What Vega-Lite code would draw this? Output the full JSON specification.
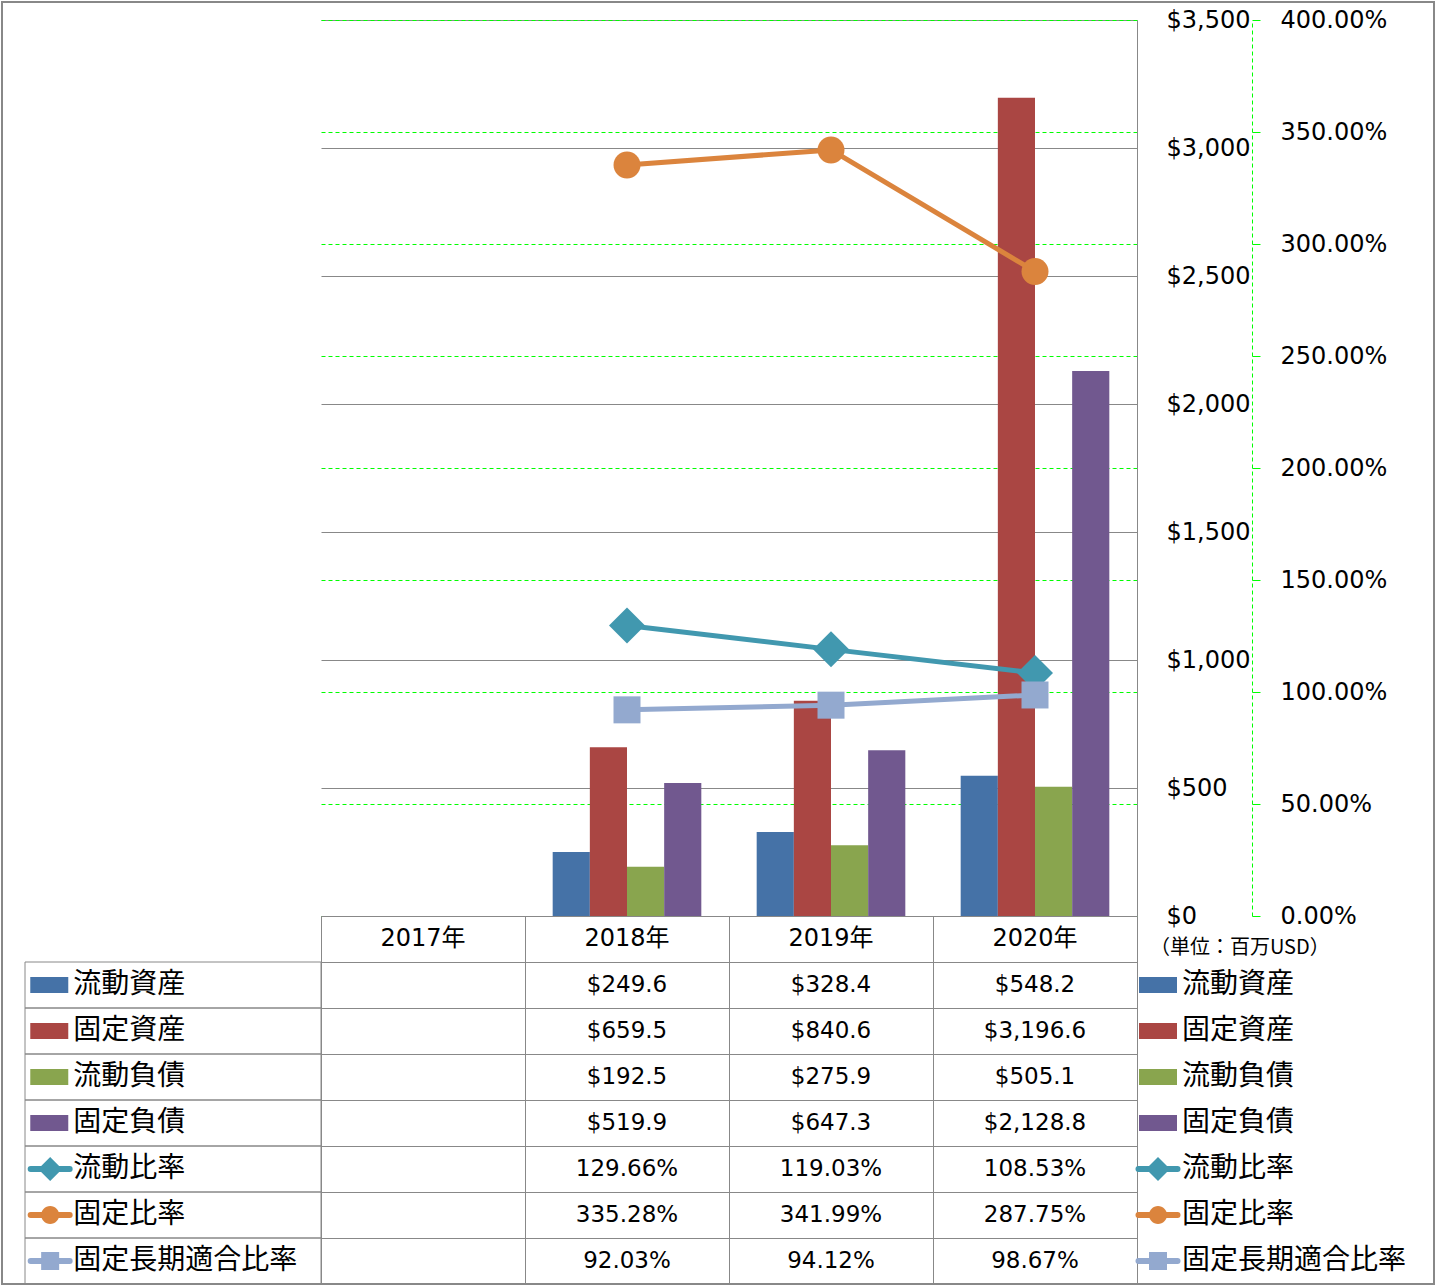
{
  "$schema": "https://vega.github.io/schema/vega-lite/v6.json",
  "padding": {"left": 0, "top": 0, "right": 0, "bottom": 0},
  "background": "white",
  "bounds": "flush",
  "spacing": 0,
  "columns": 3,
  "config": {
    "font": "DejaVu Sans, Noto Sans CJK JP",
    "view": {"stroke": null},
    "axis": {"labelFont": "DejaVu Sans, Noto Sans CJK JP", "labelColor": "#000000", "title": null}
  },
  "datasets": {
    "fin": [
      {"year": "2017年", "series": "流動資産", "value": null},
      {"year": "2017年", "series": "固定資産", "value": null},
      {"year": "2017年", "series": "流動負債", "value": null},
      {"year": "2017年", "series": "固定負債", "value": null},
      {"year": "2017年", "series": "流動比率", "value": null},
      {"year": "2017年", "series": "固定比率", "value": null},
      {"year": "2017年", "series": "固定長期適合比率", "value": null},
      {"year": "2018年", "series": "流動資産", "value": 249.6},
      {"year": "2018年", "series": "固定資産", "value": 659.5},
      {"year": "2018年", "series": "流動負債", "value": 192.5},
      {"year": "2018年", "series": "固定負債", "value": 519.9},
      {"year": "2018年", "series": "流動比率", "value": 1.2966},
      {"year": "2018年", "series": "固定比率", "value": 3.3528},
      {"year": "2018年", "series": "固定長期適合比率", "value": 0.9203},
      {"year": "2019年", "series": "流動資産", "value": 328.4},
      {"year": "2019年", "series": "固定資産", "value": 840.6},
      {"year": "2019年", "series": "流動負債", "value": 275.9},
      {"year": "2019年", "series": "固定負債", "value": 647.3},
      {"year": "2019年", "series": "流動比率", "value": 1.1903},
      {"year": "2019年", "series": "固定比率", "value": 3.4199},
      {"year": "2019年", "series": "固定長期適合比率", "value": 0.9412},
      {"year": "2020年", "series": "流動資産", "value": 548.2},
      {"year": "2020年", "series": "固定資産", "value": 3196.6},
      {"year": "2020年", "series": "流動負債", "value": 505.1},
      {"year": "2020年", "series": "固定負債", "value": 2128.8},
      {"year": "2020年", "series": "流動比率", "value": 1.0853},
      {"year": "2020年", "series": "固定比率", "value": 2.8775},
      {"year": "2020年", "series": "固定長期適合比率", "value": 0.9867}
    ]
  },
  "concat": [
    {
      "width": 296,
      "height": 896,
      "data": {"name": "fin"},
      "transform": [{"filter": {"field": "year", "equal": "2018年"}}, {"filter": {"field": "series", "equal": "流動資産"}}],
      "layer": [
        {
          "mark": {"type": "rule", "color": "#888888", "strokeWidth": 2, "strokeCap": "square"},
          "encoding": {
            "x": {"datum": -7.7703, "type": "quantitative", "scale": {"domain": [0, 100], "nice": false, "zero": false}, "axis": null},
            "y": {"datum": 0, "type": "quantitative", "scale": {"domain": [0, 100], "nice": false, "zero": false}, "axis": null},
            "y2": {"datum": 102.0089}
          }
        },
        {
          "mark": {"type": "rule", "color": "#888888", "strokeWidth": 2, "strokeCap": "square"},
          "encoding": {
            "x": {"datum": -7.7703, "type": "quantitative"},
            "x2": {"datum": 100},
            "y": {"datum": 102.0089, "type": "quantitative"}
          }
        }
      ]
    },
    {
      "width": 816,
      "height": 896,
      "data": {"name": "fin"},
      "layer": [
        {
          "layer": [
            {
              "transform": [
                {"filter": {"field": "series", "oneOf": ["流動資産", "固定資産", "流動負債", "固定負債"]}},
                {"filter": {"field": "value", "valid": true}}
              ],
              "mark": {"type": "bar"},
              "encoding": {
                "x": {"field": "year", "type": "nominal", "scale": {"domain": ["2017年", "2018年", "2019年", "2020年"], "paddingInner": 0, "paddingOuter": 0}, "axis": null},
                "xOffset": {"field": "series", "type": "nominal", "scale": {"domain": ["流動資産", "固定資産", "流動負債", "固定負債"], "paddingInner": 0, "paddingOuter": 0.745}},
                "y": {
                  "field": "value", "type": "quantitative",
                  "scale": {"domain": [0, 3500], "nice": false, "zero": true},
                  "axis": {
                    "orient": "right", "values": [0, 500, 1000, 1500, 2000, 2500, 3000, 3500], "format": "$,d",
                    "grid": true, "gridColor": "#888888", "gridWidth": 1,
                    "domain": true, "domainColor": "#888888", "domainWidth": 1,
                    "ticks": false, "labelPadding": 29, "labelAlign": "left", "labelBaseline": "middle",
                    "labelFontSize": 24, "labelFlush": false, "labelOverlap": false, "title": null
                  }
                },
                "color": {"field": "series", "type": "nominal", "scale": {"domain": ["流動資産", "固定資産", "流動負債", "固定負債"], "range": ["#4572A7", "#AA4643", "#89A54E", "#71588F"]}, "legend": null}
              }
            },
            {
              "transform": [{"filter": {"field": "year", "equal": "2018年"}}, {"filter": {"field": "series", "equal": "流動資産"}}],
              "mark": {"type": "rule", "color": "#888888", "strokeWidth": 2},
              "encoding": {"y": {"datum": 3570.3125, "type": "quantitative"}}
            }
          ]
        },
        {
          "transform": [
            {"filter": {"field": "series", "oneOf": ["流動比率", "固定比率", "固定長期適合比率"]}},
            {"filter": {"field": "value", "valid": true}}
          ],
          "encoding": {
            "x": {"field": "year", "type": "nominal", "scale": {"domain": ["2017年", "2018年", "2019年", "2020年"], "paddingInner": 0, "paddingOuter": 0}, "axis": null},
            "y": {
              "field": "value", "type": "quantitative",
              "scale": {"domain": [0, 4], "nice": false, "zero": true},
              "axis": {
                "orient": "right", "offset": 115, "values": [0, 0.5, 1, 1.5, 2, 2.5, 3, 3.5, 4], "format": ".2%",
                "grid": true, "gridColor": "#00ff00", "gridDash": [4, 3], "gridWidth": 1,
                "domain": true, "domainColor": "#00ff00", "domainDash": [4, 3], "domainWidth": 1,
                "ticks": true, "tickColor": "#00ff00", "tickSize": 8, "tickWidth": 1,
                "labelPadding": 20, "labelAlign": "left", "labelBaseline": "middle",
                "labelFontSize": 24, "labelFlush": false, "labelOverlap": false, "title": null
              }
            },
            "color": {"field": "series", "type": "nominal", "scale": {"domain": ["流動比率", "固定比率", "固定長期適合比率"], "range": ["#4198AF", "#DB843D", "#93A9CF"]}, "legend": null}
          },
          "layer": [
            {"mark": {"type": "line", "strokeWidth": 5, "strokeCap": "round", "strokeJoin": "round"}},
            {
              "mark": {"type": "point", "filled": true, "opacity": 1, "size": 1296},
              "encoding": {
                "shape": {"field": "series", "type": "nominal", "scale": {"domain": ["流動比率", "固定比率", "固定長期適合比率"], "range": ["M0,-1L1,0L0,1L-1,0Z", "M-0.75,0A0.75,0.75,0,1,1,0.75,0A0.75,0.75,0,1,1,-0.75,0Z", "M-0.75,-0.75H0.75V0.75H-0.75Z"]}, "legend": null}
              }
            }
          ]
        }
      ],
      "resolve": {"scale": {"y": "independent", "color": "independent"}}
    },
    {
      "width": 300,
      "height": 896,
      "data": {"name": "fin"},
      "transform": [{"filter": {"field": "year", "equal": "2018年"}}, {"filter": {"field": "series", "equal": "流動資産"}}],
      "layer": [
        {
          "mark": {"type": "rule", "color": "#888888", "strokeWidth": 2, "strokeCap": "square"},
          "encoding": {
            "x": {"datum": 99, "type": "quantitative", "scale": {"domain": [0, 100], "nice": false, "zero": false}, "axis": null},
            "y": {"datum": 0, "type": "quantitative", "scale": {"domain": [0, 100], "nice": false, "zero": false}, "axis": null},
            "y2": {"datum": 102.0089}
          }
        },
        {
          "mark": {"type": "rule", "color": "#888888", "strokeWidth": 2, "strokeCap": "square"},
          "encoding": {
            "x": {"datum": 0, "type": "quantitative"},
            "x2": {"datum": 99},
            "y": {"datum": 102.0089, "type": "quantitative"}
          }
        }
      ]
    },
    {
      "width": 296,
      "height": 368,
      "data": {"name": "fin"},
      "transform": [{"filter": {"field": "year", "equal": "2018年"}}],
      "encoding": {
        "color": {"field": "series", "type": "nominal", "scale": {"domain": ["流動資産", "固定資産", "流動負債", "固定負債", "流動比率", "固定比率", "固定長期適合比率"], "range": ["#4572A7", "#AA4643", "#89A54E", "#71588F", "#4198AF", "#DB843D", "#93A9CF"]}, "legend": null}
      },
      "layer": [
        {
          "transform": [{"filter": {"field": "series", "equal": "流動資産"}}],
          "mark": {"type": "rule", "color": "#888888", "strokeWidth": 2, "strokeCap": "square"},
          "encoding": {
            "x": {"datum": -7.7703, "type": "quantitative", "scale": {"domain": [0, 100], "nice": false, "zero": false}, "axis": null},
            "color": {"value": "#888888"}
          }
        },
        {
          "transform": [{"filter": {"field": "series", "equal": "流動資産"}}],
          "mark": {"type": "rule", "color": "#888888", "strokeWidth": 2, "strokeCap": "square"},
          "encoding": {
            "x": {"datum": -7.7703, "type": "quantitative"},
            "x2": {"datum": 100},
            "y": {"datum": "固定長期適合比率", "type": "nominal", "bandPosition": 1, "scale": {"domain": ["年度", "流動資産", "固定資産", "流動負債", "固定負債", "流動比率", "固定比率", "固定長期適合比率"], "paddingInner": 0, "paddingOuter": 0}, "axis": null},
            "color": {"value": "#888888"}
          }
        },
        {
          "mark": {"type": "rect", "filled": false, "stroke": "#888888", "strokeWidth": 1},
          "encoding": {
            "x": {"datum": 0, "type": "quantitative"},
            "x2": {"datum": 100},
            "y": {"field": "series", "type": "nominal"},
            "color": {"value": "#888888"}
          }
        },
        {
          "transform": [{"filter": {"field": "series", "oneOf": ["流動資産", "固定資産", "流動負債", "固定負債"]}}],
          "mark": {"type": "point", "shape": "M-1,-0.42H1V0.42H-1Z", "size": 1444, "filled": true, "opacity": 1},
          "encoding": {"x": {"datum": 8.2, "type": "quantitative"}, "y": {"field": "series", "type": "nominal"}}
        },
        {
          "transform": [{"filter": {"field": "series", "oneOf": ["流動比率", "固定比率", "固定長期適合比率"]}}],
          "mark": {"type": "point", "shape": "M-1,0H1", "size": 1521, "filled": false, "strokeWidth": 6, "strokeCap": "round", "strokeJoin": "round", "opacity": 1},
          "encoding": {"x": {"datum": 8.5, "type": "quantitative"}, "y": {"field": "series", "type": "nominal"}}
        },
        {
          "transform": [{"filter": {"field": "series", "oneOf": ["流動比率", "固定比率", "固定長期適合比率"]}}],
          "mark": {"type": "point", "filled": true, "opacity": 1, "size": 576},
          "encoding": {
            "x": {"datum": 8.5, "type": "quantitative"},
            "y": {"field": "series", "type": "nominal"},
            "shape": {"field": "series", "type": "nominal", "scale": {"domain": ["流動比率", "固定比率", "固定長期適合比率"], "range": ["M0,-1.1L0.92,0L0,1.1L-0.92,0Z", "M-0.875,0A0.875,1.04,0,1,1,0.875,0A0.875,1.04,0,1,1,-0.875,0Z", "M-0.83,-1H0.83V1H-0.83Z"]}, "legend": null}
          }
        },
        {
          "mark": {"type": "text", "align": "left", "baseline": "middle", "fontSize": 28, "font": "Noto Sans CJK JP"},
          "encoding": {"x": {"datum": 16.3, "type": "quantitative"}, "y": {"field": "series", "type": "nominal"}, "text": {"field": "series"}, "color": {"value": "#000000"}}
        }
      ]
    },
    {
      "width": 816,
      "height": 368,
      "data": {"name": "fin"},
      "encoding": {
        "x": {"field": "year", "type": "nominal", "scale": {"domain": ["2017年", "2018年", "2019年", "2020年"], "paddingInner": 0, "paddingOuter": 0}, "axis": {"orient": "bottom", "grid": true, "tickBand": "extent", "labels": false, "ticks": false, "domain": false, "gridColor": "#888888", "gridWidth": 1, "title": null}}
      },
      "layer": [
        {
          "transform": [{"filter": {"field": "series", "equal": "流動資産"}}],
          "mark": {"type": "text", "fontSize": 24, "baseline": "middle", "color": "#000000"},
          "encoding": {
            "y": {"datum": "年度", "type": "nominal", "scale": {"domain": ["年度", "流動資産", "固定資産", "流動負債", "固定負債", "流動比率", "固定比率", "固定長期適合比率"], "paddingInner": 0, "paddingOuter": 0}, "axis": {"grid": true, "tickBand": "extent", "labels": false, "ticks": false, "domain": false, "gridColor": "#888888", "gridWidth": 1, "title": null}},
            "text": {"field": "year"}
          }
        },
        {
          "transform": [
            {"filter": {"field": "series", "oneOf": ["流動資産", "固定資産", "流動負債", "固定負債"]}},
            {"filter": {"field": "value", "valid": true}}
          ],
          "mark": {"type": "text", "fontSize": 23, "baseline": "middle", "color": "#000000"},
          "encoding": {
            "y": {"field": "series", "type": "nominal"},
            "text": {"field": "value", "type": "quantitative", "format": "$,.1f"}
          }
        },
        {
          "transform": [
            {"filter": {"field": "series", "oneOf": ["流動比率", "固定比率", "固定長期適合比率"]}},
            {"filter": {"field": "value", "valid": true}}
          ],
          "mark": {"type": "text", "fontSize": 23, "baseline": "middle", "color": "#000000"},
          "encoding": {
            "y": {"field": "series", "type": "nominal"},
            "text": {"field": "value", "type": "quantitative", "format": ".2%"}
          }
        },
        {
          "transform": [{"filter": {"field": "year", "equal": "2018年"}}, {"filter": {"field": "series", "equal": "流動資産"}}],
          "mark": {"type": "rule", "color": "#888888", "strokeWidth": 2},
          "encoding": {
            "x": null,
            "y": {"datum": "固定長期適合比率", "type": "nominal", "bandPosition": 1}
          }
        }
      ]
    },
    {
      "width": 300,
      "height": 368,
      "data": {"name": "fin"},
      "transform": [{"filter": {"field": "year", "equal": "2018年"}}],
      "encoding": {
        "color": {"field": "series", "type": "nominal", "scale": {"domain": ["流動資産", "固定資産", "流動負債", "固定負債", "流動比率", "固定比率", "固定長期適合比率"], "range": ["#4572A7", "#AA4643", "#89A54E", "#71588F", "#4198AF", "#DB843D", "#93A9CF"]}, "legend": null}
      },
      "layer": [
        {
          "transform": [{"filter": {"field": "series", "equal": "流動資産"}}],
          "mark": {"type": "rule", "color": "#888888", "strokeWidth": 2, "strokeCap": "square"},
          "encoding": {
            "x": {"datum": 99, "type": "quantitative", "scale": {"domain": [0, 100], "nice": false, "zero": false}, "axis": null},
            "color": {"value": "#888888"}
          }
        },
        {
          "transform": [{"filter": {"field": "series", "equal": "流動資産"}}],
          "mark": {"type": "rule", "color": "#888888", "strokeWidth": 2, "strokeCap": "square"},
          "encoding": {
            "x": {"datum": 0, "type": "quantitative"},
            "x2": {"datum": 99},
            "y": {"datum": "固定長期適合比率", "type": "nominal", "bandPosition": 1, "scale": {"domain": ["年度", "流動資産", "固定資産", "流動負債", "固定負債", "流動比率", "固定比率", "固定長期適合比率"], "paddingInner": 0, "paddingOuter": 0}, "axis": null},
            "color": {"value": "#888888"}
          }
        },
        {
          "transform": [{"filter": {"field": "series", "oneOf": ["流動資産", "固定資産", "流動負債", "固定負債"]}}],
          "mark": {"type": "point", "shape": "M-1,-0.42H1V0.42H-1Z", "size": 1444, "filled": true, "opacity": 1},
          "encoding": {"x": {"datum": 7, "type": "quantitative"}, "y": {"field": "series", "type": "nominal"}}
        },
        {
          "transform": [{"filter": {"field": "series", "oneOf": ["流動比率", "固定比率", "固定長期適合比率"]}}],
          "mark": {"type": "point", "shape": "M-1,0H1", "size": 1521, "filled": false, "strokeWidth": 6, "strokeCap": "round", "strokeJoin": "round", "opacity": 1},
          "encoding": {"x": {"datum": 7, "type": "quantitative"}, "y": {"field": "series", "type": "nominal"}}
        },
        {
          "transform": [{"filter": {"field": "series", "oneOf": ["流動比率", "固定比率", "固定長期適合比率"]}}],
          "mark": {"type": "point", "filled": true, "opacity": 1, "size": 576},
          "encoding": {
            "x": {"datum": 7, "type": "quantitative"},
            "y": {"field": "series", "type": "nominal"},
            "shape": {"field": "series", "type": "nominal", "scale": {"domain": ["流動比率", "固定比率", "固定長期適合比率"], "range": ["M0,-1.1L0.92,0L0,1.1L-0.92,0Z", "M-0.875,0A0.875,1.04,0,1,1,0.875,0A0.875,1.04,0,1,1,-0.875,0Z", "M-0.83,-1H0.83V1H-0.83Z"]}, "legend": null}
          }
        },
        {
          "mark": {"type": "text", "align": "left", "baseline": "middle", "fontSize": 28, "font": "Noto Sans CJK JP"},
          "encoding": {"x": {"datum": 15, "type": "quantitative"}, "y": {"field": "series", "type": "nominal"}, "text": {"field": "series"}, "color": {"value": "#000000"}}
        },
        {
          "transform": [{"filter": {"field": "series", "equal": "流動資産"}}],
          "mark": {"type": "text", "align": "left", "baseline": "middle", "fontSize": 20, "dy": 9, "font": "Noto Sans CJK JP", "text": "（単位：百万USD）"},
          "encoding": {"x": {"datum": 4.3, "type": "quantitative"}, "y": {"datum": "年度", "type": "nominal"}, "color": {"value": "#000000"}}
        }
      ]
    }
  ]
}
